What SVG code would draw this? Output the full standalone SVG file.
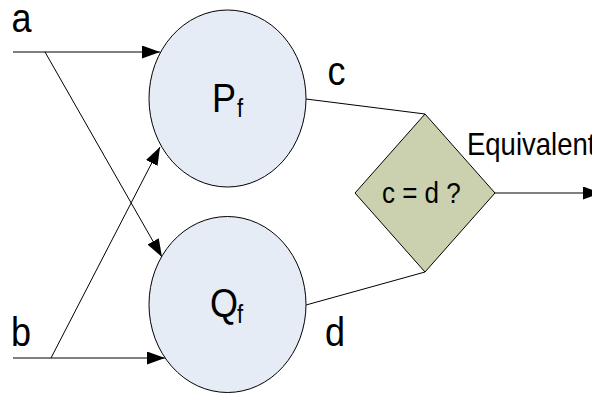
<svg xmlns="http://www.w3.org/2000/svg" width="592" height="394" viewBox="0 0 592 394">
  <style>
    .lbl { font-family: "Liberation Sans", Arial, sans-serif; fill: #000; }
    .big { font-size: 36px; }
    .sub { font-size: 22px; }
    .mid { font-size: 26px; }
    .eq { font-size: 27.5px; }
    .edge { stroke: #000; stroke-width: 1; fill: none; }
    .circ { fill: #e6ecf6; stroke: #000; stroke-width: 1; }
    .dia { fill: #cbd1ae; stroke: #000; stroke-width: 1; }
  </style>
  <defs>
    <marker id="arrow" markerUnits="userSpaceOnUse" markerWidth="18" markerHeight="13" refX="18" refY="6.5" orient="auto">
      <path d="M0,0 L18,6.5 L0,13 Z" fill="#000"/>
    </marker>
  </defs>
  <rect width="592" height="394" fill="#fff"/>

  <g id="connectors">
    <path class="edge" d="M13,52 L160,52" marker-end="url(#arrow)"/>
    <path class="edge" d="M45,52 L162,257" marker-end="url(#arrow)"/>
    <path class="edge" d="M13,358 L165,358" marker-end="url(#arrow)"/>
    <path class="edge" d="M51,358 L160,147" marker-end="url(#arrow)"/>
    <path class="edge" d="M306,99 L425,114"/>
    <path class="edge" d="M425,272 L306,305"/>
    <path class="edge" d="M495,193 L601,193" marker-end="url(#arrow)"/>
  </g>

  <g id="label-a"><text class="lbl big" transform="translate(11.5,32) scale(1,1.13)">a</text></g>
  <g id="label-b"><text class="lbl big" transform="translate(11,346) scale(1,1.13)">b</text></g>
  <g id="label-c"><text class="lbl big" transform="translate(327.5,85) scale(1,1.13)">c</text></g>
  <g id="label-d"><text class="lbl big" transform="translate(325,346) scale(1,1.13)">d</text></g>

  <g id="node-P">
    <ellipse class="circ" cx="227.5" cy="98.5" rx="78.5" ry="88.5"/>
    <text class="lbl big" transform="translate(212,112) scale(1,1.13)">P</text>
    <text class="lbl sub" transform="translate(237,117) scale(1,1.13)">f</text>
  </g>

  <g id="node-Q">
    <ellipse class="circ" cx="227.5" cy="304.5" rx="78.5" ry="88"/>
    <text class="lbl big" transform="translate(210,317) scale(1,1.13)">Q</text>
    <text class="lbl sub" transform="translate(237,323) scale(1,1.13)">f</text>
  </g>

  <g id="node-compare">
    <polygon class="dia" points="425,114 495,193 425,272 355,193"/>
    <text class="lbl mid" transform="translate(382,203) scale(1,1.13)">c = d ?</text>
  </g>

  <g id="label-equivalent">
    <text class="lbl eq" transform="translate(467,155) scale(1,1.13)">Equivalent</text>
  </g>
</svg>
